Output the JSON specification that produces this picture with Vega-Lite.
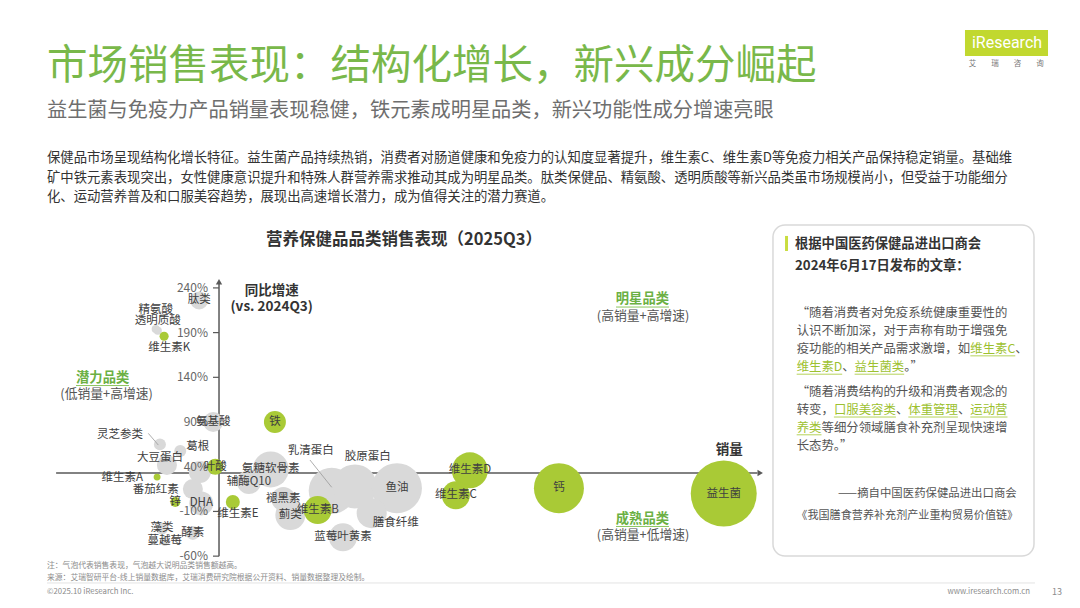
{
  "$schema": "https://vega.github.io/schema/vega-lite/v6.json",
  "width": 1080,
  "height": 608,
  "autosize": {"type": "none"},
  "padding": 0,
  "background": "white",
  "config": {
    "view": {"stroke": null},
    "axis": {"disable": true},
    "legend": {"disable": true},
    "text": {"font": "Noto Sans CJK SC"}
  },
  "datasets": {
    "bubbles": [
      {"name": "肽类", "volume": 20.4, "growth": 226, "revenue": 7.4, "type": "gray", "pos": "c"},
      {"name": "精氨酸", "volume": 14.2, "growth": 194, "revenue": 1.5, "type": "gray", "pos": "a2"},
      {"name": "透明质酸", "volume": 14.5, "growth": 192, "revenue": 1.5, "type": "gray", "pos": "a1"},
      {"name": "维生素K", "volume": 15.4, "growth": 186, "revenue": 1.9, "type": "green", "pos": "b"},
      {"name": "氨基酸", "volume": 22.4, "growth": 90, "revenue": 9.2, "type": "gray", "pos": "c"},
      {"name": "铁", "volume": 31.2, "growth": 90, "revenue": 11.1, "type": "green", "pos": "c"},
      {"name": "灵芝参类", "volume": 14.8, "growth": 65, "revenue": 3.3, "type": "gray", "pos": "ul"},
      {"name": "葛根", "volume": 17.7, "growth": 57.5, "revenue": 3.3, "type": "gray", "pos": "r"},
      {"name": "大豆蛋白", "volume": 15.8, "growth": 42, "revenue": 9.2, "type": "gray", "pos": "cu"},
      {"name": "", "volume": 20.5, "growth": 34, "revenue": 11.1, "type": "gray", "pos": "none"},
      {"name": "叶酸", "volume": 22.7, "growth": 40, "revenue": 5.9, "type": "green", "pos": "c"},
      {"name": "维生素A", "volume": 14.4, "growth": 28.4, "revenue": 1.1, "type": "green", "pos": "l"},
      {"name": "番茄红素", "volume": 19.5, "growth": 15, "revenue": 9.2, "type": "gray", "pos": "l"},
      {"name": "锌", "volume": 17.0, "growth": 0.5, "revenue": 2.3, "type": "green", "pos": "c"},
      {"name": "DHA", "volume": 20.7, "growth": -1, "revenue": 13.2, "type": "gray", "pos": "c"},
      {"name": "维生素E", "volume": 25.2, "growth": 0.5, "revenue": 4.5, "type": "green", "pos": "b"},
      {"name": "藻类", "volume": 15.1, "growth": -29, "revenue": 3.3, "type": "gray", "pos": "c"},
      {"name": "蔓越莓", "volume": 15.5, "growth": -43, "revenue": 2.3, "type": "gray", "pos": "c"},
      {"name": "酵素", "volume": 19.5, "growth": -34, "revenue": 4.5, "type": "gray", "pos": "c"},
      {"name": "辅酶Q10", "volume": 27.5, "growth": 23, "revenue": 13.2, "type": "gray", "pos": "c"},
      {"name": "氨糖软骨素", "volume": 30.6, "growth": 37, "revenue": 29.8, "type": "gray", "pos": "c"},
      {"name": "褪黑素", "volume": 32.4, "growth": 4, "revenue": 13.2, "type": "gray", "pos": "c"},
      {"name": "蓟类", "volume": 33.4, "growth": -14, "revenue": 20.7, "type": "gray", "pos": "c"},
      {"name": "维生素B", "volume": 37.3, "growth": -8.5, "revenue": 18, "type": "green", "pos": "c"},
      {"name": "乳清蛋白", "volume": 39.3, "growth": 13, "revenue": 48.6, "type": "gray", "pos": "qu"},
      {"name": "胶原蛋白", "volume": 42.6, "growth": 18, "revenue": 44.4, "type": "gray", "pos": "ja"},
      {"name": "鱼油", "volume": 48.6, "growth": 16, "revenue": 57.4, "type": "gray", "pos": "c"},
      {"name": "膳食纤维", "volume": 45.0, "growth": -12, "revenue": 20.7, "type": "gray", "pos": "sx"},
      {"name": "蓝莓叶黄素", "volume": 40.9, "growth": -39, "revenue": 18, "type": "gray", "pos": "c"},
      {"name": "维生素D", "volume": 59.0, "growth": 36, "revenue": 29.8, "type": "green", "pos": "c"},
      {"name": "维生素C", "volume": 57.0, "growth": 8, "revenue": 18, "type": "green", "pos": "c"},
      {"name": "钙", "volume": 71.7, "growth": 16, "revenue": 57.4, "type": "green", "pos": "c"},
      {"name": "益生菌", "volume": 95.2, "growth": 10, "revenue": 100, "type": "green", "pos": "c"}
    ],
    "ticks": [
      {"v": 240, "t": "240%"},
      {"v": 190, "t": "190%"},
      {"v": 140, "t": "140%"},
      {"v": 90, "t": "90%"},
      {"v": 40, "t": "40%"},
      {"v": -10, "t": "-10%"},
      {"v": -60, "t": "-60%"}
    ]
  },
  "data": {"values": [{}]},
  "layer": [
    {"mark": {"type": "rect", "fill": "white", "stroke": "#D9D9D9", "strokeWidth": 1.5, "cornerRadius": 12},
     "encoding": {"x": {"datum": 102.22}, "x2": {"datum": 139.44}, "y": {"datum": 310.4}, "y2": {"datum": -59.8}}},
    {"mark": {"type": "rect", "fill": "#C9DD3F"},
     "encoding": {"x": {"datum": 103.94}, "x2": {"datum": 104.36}, "y": {"datum": 298.1}, "y2": {"datum": 281.3}}},
    {"mark": {"type": "rule", "color": "#595959", "strokeWidth": 1.5},
     "encoding": {"x": {"datum": 23.23}, "y": {"datum": -60}, "y2": {"datum": 246}}},
    {"mark": {"type": "rule", "color": "#595959", "strokeWidth": 1.5},
     "encoding": {"y": {"datum": 33}, "x": {"datum": 0}, "x2": {"datum": 100}}},
    {"mark": {"type": "point", "shape": "triangle-up", "filled": true, "color": "#595959", "size": 40, "opacity": 1},
     "encoding": {"x": {"datum": 23.23}, "y": {"datum": 247}}},
    {"mark": {"type": "point", "shape": "triangle-right", "filled": true, "color": "#595959", "size": 40, "opacity": 1},
     "encoding": {"x": {"datum": 100.4}, "y": {"datum": 33}}},
    {"data": {"name": "ticks"},
     "mark": {"type": "rule", "color": "#595959", "strokeWidth": 1.2},
     "encoding": {"x": {"datum": 22.37}, "x2": {"datum": 23.23}, "y": {"field": "v", "type": "quantitative"}}},
    {"data": {"name": "bubbles"},
     "transform": [{"filter": "datum.type === 'gray'"}],
     "mark": {"type": "circle", "color": "#D9D9D9", "opacity": 1},
     "encoding": {
       "x": {"field": "volume", "type": "quantitative", "scale": {"domain": [-8, 146], "nice": false, "zero": false}, "axis": null},
       "y": {"field": "growth", "type": "quantitative", "scale": {"domain": [-118, 562], "nice": false, "zero": false}, "axis": null},
       "size": {"field": "revenue", "type": "quantitative", "scale": {"domain": [0, 100], "range": [0, 4356]}, "legend": null}
     }},
    {"data": {"name": "bubbles"},
     "transform": [{"filter": "datum.type === 'green'"}],
     "mark": {"type": "circle", "color": "#A9CA36", "opacity": 1},
     "encoding": {
       "x": {"field": "volume", "type": "quantitative"},
       "y": {"field": "growth", "type": "quantitative"},
       "size": {"field": "revenue", "type": "quantitative", "legend": null}
     }},
    {"data": {"name": "ticks"},
     "mark": {"type": "text", "align": "right", "baseline": "middle", "fontSize": 12, "color": "#666666"},
     "encoding": {"x": {"datum": 21.66}, "y": {"field": "v", "type": "quantitative"}, "text": {"field": "t"}}},
    {"mark": {"type": "rule", "color": "#999999", "strokeWidth": 0.8},
     "encoding": {"x": {"datum": 13.15}, "y": {"datum": 77.3}, "x2": {"datum": 14.58}, "y2": {"datum": 64.2}}},
    {"mark": {"type": "rule", "color": "#999999", "strokeWidth": 0.8},
     "encoding": {"x": {"datum": 36.2}, "y": {"datum": 47.5}, "x2": {"datum": 39.3}, "y2": {"datum": 17}}},
    {"data": {"name": "bubbles"}, "transform": [{"filter": "datum.pos === 'c'"}],
     "mark": {"type": "text", "align": "center", "baseline": "middle", "fontSize": 11.5, "color": "#404040"},
     "encoding": {"x": {"field": "volume", "type": "quantitative"}, "y": {"field": "growth", "type": "quantitative"}, "text": {"field": "name"}}},
    {"data": {"name": "bubbles"}, "transform": [{"filter": "datum.pos === 'b'"}],
     "mark": {"type": "text", "align": "center", "baseline": "middle", "fontSize": 11.5, "color": "#404040", "dx": 5, "dy": 12},
     "encoding": {"x": {"field": "volume", "type": "quantitative"}, "y": {"field": "growth", "type": "quantitative"}, "text": {"field": "name"}}},
    {"data": {"name": "bubbles"}, "transform": [{"filter": "datum.pos === 'l'"}],
     "mark": {"type": "text", "align": "right", "baseline": "middle", "fontSize": 11.5, "color": "#404040", "dx": -14, "dy": 1},
     "encoding": {"x": {"field": "volume", "type": "quantitative"}, "y": {"field": "growth", "type": "quantitative"}, "text": {"field": "name"}}},
    {"data": {"name": "bubbles"}, "transform": [{"filter": "datum.pos === 'r'"}],
     "mark": {"type": "text", "align": "left", "baseline": "middle", "fontSize": 11.5, "color": "#404040", "dx": 6, "dy": -4},
     "encoding": {"x": {"field": "volume", "type": "quantitative"}, "y": {"field": "growth", "type": "quantitative"}, "text": {"field": "name"}}},
    {"data": {"name": "bubbles"}, "transform": [{"filter": "datum.pos === 'ul'"}],
     "mark": {"type": "text", "align": "right", "baseline": "middle", "fontSize": 11.5, "color": "#404040", "dx": -17, "dy": -9},
     "encoding": {"x": {"field": "volume", "type": "quantitative"}, "y": {"field": "growth", "type": "quantitative"}, "text": {"field": "name"}}},
    {"data": {"name": "bubbles"}, "transform": [{"filter": "datum.pos === 'a1'"}],
     "mark": {"type": "text", "align": "center", "baseline": "middle", "fontSize": 11.5, "color": "#404040", "dy": -10},
     "encoding": {"x": {"field": "volume", "type": "quantitative"}, "y": {"field": "growth", "type": "quantitative"}, "text": {"field": "name"}}},
    {"data": {"name": "bubbles"}, "transform": [{"filter": "datum.pos === 'a2'"}],
     "mark": {"type": "text", "align": "center", "baseline": "middle", "fontSize": 11.5, "color": "#404040", "dy": -19},
     "encoding": {"x": {"field": "volume", "type": "quantitative"}, "y": {"field": "growth", "type": "quantitative"}, "text": {"field": "name"}}},
    {"data": {"name": "bubbles"}, "transform": [{"filter": "datum.pos === 'cu'"}],
     "mark": {"type": "text", "align": "center", "baseline": "middle", "fontSize": 11.5, "color": "#404040", "dx": -7, "dy": -7},
     "encoding": {"x": {"field": "volume", "type": "quantitative"}, "y": {"field": "growth", "type": "quantitative"}, "text": {"field": "name"}}},
    {"data": {"name": "bubbles"}, "transform": [{"filter": "datum.pos === 'qu'"}],
     "mark": {"type": "text", "align": "center", "baseline": "middle", "fontSize": 11.5, "color": "#404040", "dx": -21, "dy": -40},
     "encoding": {"x": {"field": "volume", "type": "quantitative"}, "y": {"field": "growth", "type": "quantitative"}, "text": {"field": "name"}}},
    {"data": {"name": "bubbles"}, "transform": [{"filter": "datum.pos === 'ja'"}],
     "mark": {"type": "text", "align": "center", "baseline": "middle", "fontSize": 11.5, "color": "#404040", "dx": 13, "dy": -29},
     "encoding": {"x": {"field": "volume", "type": "quantitative"}, "y": {"field": "growth", "type": "quantitative"}, "text": {"field": "name"}}},
    {"data": {"name": "bubbles"}, "transform": [{"filter": "datum.pos === 'sx'"}],
     "mark": {"type": "text", "align": "center", "baseline": "middle", "fontSize": 11.5, "color": "#404040", "dx": 24, "dy": 10},
     "encoding": {"x": {"field": "volume", "type": "quantitative"}, "y": {"field": "growth", "type": "quantitative"}, "text": {"field": "name"}}},

    {"mark": {"type": "text", "text": "市场销售表现：结构化增长，新兴成分崛起", "fontSize": 40.5, "color": "#79B84A", "align": "left", "baseline": "middle"},
     "encoding": {"x": {"datum": -1.3}, "y": {"datum": 487}}},
    {"mark": {"type": "text", "text": "益生菌与免疫力产品销量表现稳健，铁元素成明星品类，新兴功能性成分增速亮眼", "fontSize": 20.2, "color": "#6E6E6E", "align": "left", "baseline": "middle"},
     "encoding": {"x": {"datum": -1.3}, "y": {"datum": 437.3}}},
    {"mark": {"type": "text", "text": "保健品市场呈现结构化增长特征。益生菌产品持续热销，消费者对肠道健康和免疫力的认知度显著提升，维生素C、维生素D等免疫力相关产品保持稳定销量。基础维\n矿中铁元素表现突出，女性健康意识提升和特殊人群营养需求推动其成为明星品类。肽类保健品、精氨酸、透明质酸等新兴品类虽市场规模尚小，但受益于功能细分\n化、运动营养普及和口服美容趋势，展现出高速增长潜力，成为值得关注的潜力赛道。", "lineBreak": "\n", "lineHeight": 19.5, "fontSize": 13.35, "color": "#333333", "align": "left", "baseline": "top"},
     "encoding": {"x": {"datum": -1.3}, "y": {"datum": 392.8}}},
    {"mark": {"type": "text", "text": "营养保健品品类销售表现（2025Q3）", "fontSize": 16.5, "fontWeight": "bold", "color": "#333333", "align": "center", "baseline": "middle"},
     "encoding": {"x": {"datum": 49.61}, "y": {"datum": 293.4}}},
    {"mark": {"type": "text", "text": "同比增速", "fontSize": 13.5, "fontWeight": "bold", "color": "#333333", "align": "center", "baseline": "middle"},
     "encoding": {"x": {"datum": 30.74}, "y": {"datum": 236.5}}},
    {"mark": {"type": "text", "text": "(vs. 2024Q3)", "fontSize": 13.5, "fontWeight": "bold", "color": "#333333", "align": "center", "baseline": "middle"},
     "encoding": {"x": {"datum": 30.74}, "y": {"datum": 219.0}}},
    {"mark": {"type": "text", "text": "销量", "fontSize": 13.5, "fontWeight": "bold", "color": "#333333", "align": "center", "baseline": "middle"},
     "encoding": {"x": {"datum": 96.0}, "y": {"datum": 58.4}}},
    {"mark": {"type": "text", "text": "潜力品类", "fontSize": 13.3, "fontWeight": "bold", "color": "#6BB043", "align": "center", "baseline": "middle"},
     "encoding": {"x": {"datum": 6.64}, "y": {"datum": 139.6}}},
    {"mark": {"type": "text", "text": "(低销量+高增速)", "fontSize": 12.8, "color": "#555555", "align": "center", "baseline": "middle"},
     "encoding": {"x": {"datum": 7.2}, "y": {"datum": 121.8}}},
    {"mark": {"type": "text", "text": "明星品类", "fontSize": 13.3, "fontWeight": "bold", "color": "#6BB043", "align": "center", "baseline": "middle"},
     "encoding": {"x": {"datum": 83.6}, "y": {"datum": 227.3}}},
    {"mark": {"type": "text", "text": "(高销量+高增速)", "fontSize": 12.8, "color": "#555555", "align": "center", "baseline": "middle"},
     "encoding": {"x": {"datum": 83.7}, "y": {"datum": 208.6}}},
    {"mark": {"type": "text", "text": "成熟品类", "fontSize": 13.3, "fontWeight": "bold", "color": "#6BB043", "align": "center", "baseline": "middle"},
     "encoding": {"x": {"datum": 83.6}, "y": {"datum": -18.1}}},
    {"mark": {"type": "text", "text": "(高销量+低增速)", "fontSize": 12.8, "color": "#555555", "align": "center", "baseline": "middle"},
     "encoding": {"x": {"datum": 83.7}, "y": {"datum": -36.4}}},
    {"mark": {"type": "rule", "color": "#8CC55E", "strokeWidth": 1},
     "encoding": {"x": {"datum": 2.84}, "x2": {"datum": 10.39}, "y": {"datum": 130.8}}},
    {"mark": {"type": "rule", "color": "#8CC55E", "strokeWidth": 1},
     "encoding": {"x": {"datum": 79.84}, "x2": {"datum": 87.39}, "y": {"datum": 218.6}}},
    {"mark": {"type": "rule", "color": "#8CC55E", "strokeWidth": 1},
     "encoding": {"x": {"datum": 79.84}, "x2": {"datum": 87.39}, "y": {"datum": -26.8}}},

    {"mark": {"type": "text", "text": "根据中国医药保健品进出口商会", "fontSize": 13.3, "fontWeight": "bold", "color": "#333333", "align": "left", "baseline": "middle"},
     "encoding": {"x": {"datum": 105.36}, "y": {"datum": 289.2}}},
    {"mark": {"type": "text", "text": "2024年6月17日发布的文章：", "fontSize": 13.3, "fontWeight": "bold", "color": "#333333", "align": "left", "baseline": "middle"},
     "encoding": {"x": {"datum": 105.36}, "y": {"datum": 264.6}}},
    {"mark": {"type": "text", "text": "“随着消费者对免疫系统健康重要性的\n认识不断加深，对于声称有助于增强免\n疫功能的相关产品需求激增，如", "lineBreak": "\n", "lineHeight": 18.3, "fontSize": 12.4, "color": "#555555", "align": "left", "baseline": "top"},
     "encoding": {"x": {"datum": 105.6}, "y": {"datum": 219.2}}},
    {"mark": {"type": "text", "text": "维生素C", "fontSize": 12.4, "color": "#9DC12F", "align": "left", "baseline": "middle"},
     "encoding": {"x": {"datum": 130.36}, "y": {"datum": 171.4}}},
    {"mark": {"type": "text", "text": "、", "fontSize": 12.4, "color": "#555555", "align": "left", "baseline": "middle"},
     "encoding": {"x": {"datum": 136.77}, "y": {"datum": 171.4}}},
    {"mark": {"type": "text", "text": "维生素D", "fontSize": 12.4, "color": "#9DC12F", "align": "left", "baseline": "middle"},
     "encoding": {"x": {"datum": 105.6}, "y": {"datum": 151.0}}},
    {"mark": {"type": "text", "text": "、", "fontSize": 12.4, "color": "#555555", "align": "left", "baseline": "middle"},
     "encoding": {"x": {"datum": 112.09}, "y": {"datum": 151.0}}},
    {"mark": {"type": "text", "text": "益生菌类", "fontSize": 12.4, "color": "#9DC12F", "align": "left", "baseline": "middle"},
     "encoding": {"x": {"datum": 113.86}, "y": {"datum": 151.0}}},
    {"mark": {"type": "text", "text": "。”", "fontSize": 12.4, "color": "#555555", "align": "left", "baseline": "middle"},
     "encoding": {"x": {"datum": 120.93}, "y": {"datum": 151.0}}},
    {"mark": {"type": "text", "text": "“随着消费结构的升级和消费者观念的\n转变，", "lineBreak": "\n", "lineHeight": 17.8, "fontSize": 12.4, "color": "#555555", "align": "left", "baseline": "top"},
     "encoding": {"x": {"datum": 105.6}, "y": {"datum": 129.8}}},
    {"mark": {"type": "text", "text": "口服美容类", "fontSize": 12.4, "color": "#9DC12F", "align": "left", "baseline": "middle"},
     "encoding": {"x": {"datum": 110.91}, "y": {"datum": 103.0}}},
    {"mark": {"type": "text", "text": "、", "fontSize": 12.4, "color": "#555555", "align": "left", "baseline": "middle"},
     "encoding": {"x": {"datum": 119.75}, "y": {"datum": 103.0}}},
    {"mark": {"type": "text", "text": "体重管理", "fontSize": 12.4, "color": "#9DC12F", "align": "left", "baseline": "middle"},
     "encoding": {"x": {"datum": 121.52}, "y": {"datum": 103.0}}},
    {"mark": {"type": "text", "text": "、", "fontSize": 12.4, "color": "#555555", "align": "left", "baseline": "middle"},
     "encoding": {"x": {"datum": 128.59}, "y": {"datum": 103.0}}},
    {"mark": {"type": "text", "text": "运动营", "fontSize": 12.4, "color": "#9DC12F", "align": "left", "baseline": "middle"},
     "encoding": {"x": {"datum": 130.36}, "y": {"datum": 103.0}}},
    {"mark": {"type": "text", "text": "养类", "fontSize": 12.4, "color": "#9DC12F", "align": "left", "baseline": "middle"},
     "encoding": {"x": {"datum": 105.6}, "y": {"datum": 83.1}}},
    {"mark": {"type": "text", "text": "等细分领域膳食补充剂呈现快速增", "fontSize": 12.4, "color": "#555555", "align": "left", "baseline": "middle"},
     "encoding": {"x": {"datum": 109.14}, "y": {"datum": 83.1}}},
    {"mark": {"type": "text", "text": "长态势。”", "fontSize": 12.4, "color": "#555555", "align": "left", "baseline": "middle"},
     "encoding": {"x": {"datum": 105.6}, "y": {"datum": 63.2}}},
    {"mark": {"type": "rule", "color": "#B5D35A", "strokeWidth": 1},
     "encoding": {"x": {"datum": 130.36}, "x2": {"datum": 136.77}, "y": {"datum": 164.0}}},
    {"mark": {"type": "rule", "color": "#B5D35A", "strokeWidth": 1},
     "encoding": {"x": {"datum": 105.6}, "x2": {"datum": 112.09}, "y": {"datum": 143.5}}},
    {"mark": {"type": "rule", "color": "#B5D35A", "strokeWidth": 1},
     "encoding": {"x": {"datum": 113.86}, "x2": {"datum": 120.93}, "y": {"datum": 143.5}}},
    {"mark": {"type": "rule", "color": "#B5D35A", "strokeWidth": 1},
     "encoding": {"x": {"datum": 110.91}, "x2": {"datum": 119.75}, "y": {"datum": 95.6}}},
    {"mark": {"type": "rule", "color": "#B5D35A", "strokeWidth": 1},
     "encoding": {"x": {"datum": 121.52}, "x2": {"datum": 128.59}, "y": {"datum": 95.6}}},
    {"mark": {"type": "rule", "color": "#B5D35A", "strokeWidth": 1},
     "encoding": {"x": {"datum": 130.36}, "x2": {"datum": 135.66}, "y": {"datum": 95.6}}},
    {"mark": {"type": "rule", "color": "#B5D35A", "strokeWidth": 1},
     "encoding": {"x": {"datum": 105.6}, "x2": {"datum": 109.14}, "y": {"datum": 75.7}}},
    {"mark": {"type": "text", "text": "——摘自中国医药保健品进出口商会", "fontSize": 11.4, "color": "#555555", "align": "right", "baseline": "middle"},
     "encoding": {"x": {"datum": 136.97}, "y": {"datum": 9.4}}},
    {"mark": {"type": "text", "text": "《我国膳食营养补充剂产业重构贸易价值链》", "fontSize": 11.1, "color": "#555555", "align": "center", "baseline": "middle"},
     "encoding": {"x": {"datum": 121.37}, "y": {"datum": -14.9}}},

    {"mark": {"type": "text", "text": "注：气泡代表销售表现，气泡越大说明品类销售额越高。", "fontSize": 7.8, "color": "#8C8C8C", "align": "left", "baseline": "middle"},
     "encoding": {"x": {"datum": -1.3}, "y": {"datum": -70.6}}},
    {"mark": {"type": "text", "text": "来源：艾瑞智研平台-线上销量数据库，艾瑞消费研究院根据公开资料、销量数据整理及绘制。", "fontSize": 7.8, "color": "#8C8C8C", "align": "left", "baseline": "middle"},
     "encoding": {"x": {"datum": -1.3}, "y": {"datum": -84}}},
    {"mark": {"type": "rule", "color": "#E3E3E3", "strokeWidth": 1},
     "encoding": {"x": {"datum": -1.3}, "x2": {"datum": 139.58}, "y": {"datum": -90}}},
    {"mark": {"type": "text", "text": "©2025.10 iResearch Inc.", "fontSize": 7.8, "color": "#8C8C8C", "align": "left", "baseline": "middle"},
     "encoding": {"x": {"datum": -1.3}, "y": {"datum": -99.6}}},
    {"mark": {"type": "text", "text": "www.iresearch.com.cn", "fontSize": 7.8, "color": "#8C8C8C", "align": "right", "baseline": "middle"},
     "encoding": {"x": {"datum": 138.87}, "y": {"datum": -99.6}}},
    {"mark": {"type": "text", "text": "13", "fontSize": 9, "color": "#8C8C8C", "align": "center", "baseline": "middle"},
     "encoding": {"x": {"datum": 142.72}, "y": {"datum": -99.6}}},

    {"mark": {"type": "rect", "fill": "#C1D82F"},
     "encoding": {"x": {"datum": 129.6}, "x2": {"datum": 141.44}, "y": {"datum": 528.5}, "y2": {"datum": 499.4}}},
    {"mark": {"type": "text", "text": "iResearch", "font": "Roboto", "fontSize": 16, "color": "white", "align": "center", "baseline": "middle"},
     "encoding": {"x": {"datum": 135.59}, "y": {"datum": 513.5}}},
    {"mark": {"type": "text", "text": "艾　　瑞　　咨　　询", "fontSize": 7.5, "color": "#777777", "align": "center", "baseline": "middle"},
     "encoding": {"x": {"datum": 135.5}, "y": {"datum": 490.4}}}
  ]
}
